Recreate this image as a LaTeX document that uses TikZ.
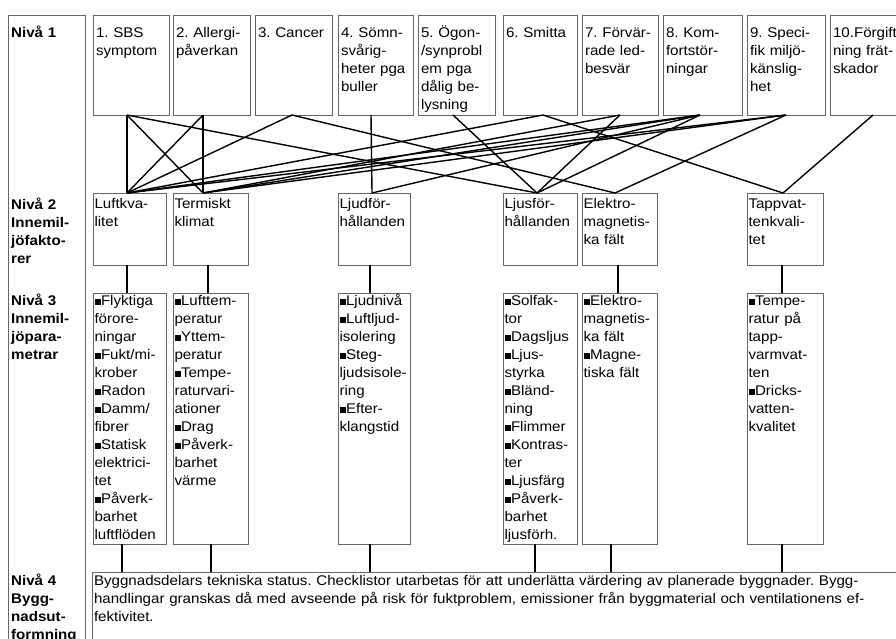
\documentclass[tikz,border=0pt]{standalone}
\usepackage{fontspec}
\setmainfont{Liberation Sans}[FakeStretch=1.08]
\usetikzlibrary{positioning}
\newcommand{\fs}{\fontsize{14}{18}\selectfont\frenchspacing}
\newcommand{\sq}{\rule[0.5pt]{6pt}{6pt}\hspace{0.5pt}}

\begin{document}
\begin{tikzpicture}[x=1pt, y=-1pt,
  frame/.style={draw=black!60, line width=0.6pt, anchor=north west, outer sep=0pt, inner ysep=0pt, font=\fs, align=left},
  effect/.style={frame, inner xsep=3pt, text height=22pt, text depth=78pt},
  factor/.style={frame, inner xsep=1.5pt, text height=15pt, text depth=57pt},
  param/.style={frame, inner xsep=1.5pt, text height=12pt, text depth=239pt},
  level/.style={anchor=base west, inner sep=0pt, font=\fs\bfseries, align=left, text width=72pt},
  link/.style={line width=1.4pt}]

  \useasboundingbox (0,0) rectangle (896,638);

  % Level column
  \node[frame, minimum width=77pt, minimum height=660pt] (side) at (8,15) {};
  \node[level] (lv1) at (11,37) {Nivå 1};
  \node[level] (lv2) at (11,209) {Nivå 2\\Innemil-\\jöfakto-\\rer};
  \node[level] (lv3) at (11,305) {Nivå 3\\Innemil-\\jöpara-\\metrar};
  \node[level] (lv4) at (11,585) {Nivå 4\\Bygg-\\nadsut-\\formning};

  % Level 1
  \node[effect, text width=70pt] (b1) at (93,15) {1. SBS\\symptom};
  \node[effect, text width=71pt] (b2) at (173,15) {2. Allergi-\\påverkan};
  \node[effect, text width=71pt] (b3) at (255,15) {3. Cancer};
  \node[effect, text width=69pt] (b4) at (338,15) {4. Sömn-\\svårig-\\heter pga\\buller};
  \node[effect, text width=71pt] (b5) at (418,15) {5. Ögon-\\/synprobl\\em pga\\dålig be-\\lysning};
  \node[effect, text width=68pt] (b6) at (503,15) {6. Smitta};
  \node[effect, text width=70pt] (b7) at (582,15) {7. Förvär-\\rade led-\\besvär};
  \node[effect, text width=73pt] (b8) at (663,15) {8. Kom-\\fortstör-\\ningar};
  \node[effect, text width=72pt] (b9) at (747,15) {9. Speci-\\fik miljö-\\känslig-\\het};
  \node[effect, text width=74pt] (b10) at (830,15) {10.Förgift-\\ning frät-\\skador};

  % Level 2
  \node[factor, text width=70pt] (n1) at (93,193) {Luftkva-\\litet};
  \node[factor, text width=72pt] (n2) at (173,193) {Termiskt\\klimat};
  \node[factor, text width=69pt] (n3) at (338,193) {Ljudför-\\hållanden};
  \node[factor, text width=71pt] (n4) at (503,193) {Ljusför-\\hållanden};
  \node[factor, text width=72pt] (n5) at (582,193) {Elektro-\\magnetis-\\ka fält};
  \node[factor, text width=73pt] (n6) at (747,193) {Tappvat-\\tenkvali-\\tet};

  % Level 3
  \node[param, text width=70pt] (p1) at (93,293) {\sq Flyktiga\\förore-\\ningar\\\sq Fukt/mi-\\krober\\\sq Radon\\\sq Damm/\\fibrer\\\sq Statisk\\elektrici-\\tet\\\sq Påverk-\\barhet\\luftflöden};
  \node[param, text width=72pt] (p2) at (173,293) {\sq Lufttem-\\peratur\\\sq Yttem-\\peratur\\\sq Tempe-\\raturvari-\\ationer\\\sq Drag\\\sq Påverk-\\barhet\\värme};
  \node[param, text width=69pt] (p3) at (338,293) {\sq Ljudnivå\\\sq Luftljud-\\isolering\\\sq Steg-\\ljudsisole-\\ring\\\sq Efter-\\klangstid};
  \node[param, text width=71pt] (p4) at (503,293) {\sq Solfak-\\tor\\\sq Dagsljus\\\sq Ljus-\\styrka\\\sq Bländ-\\ning\\\sq Flimmer\\\sq Kontras-\\ter\\\sq Ljusfärg\\\sq Påverk-\\barhet\\ljusförh.};
  \node[param, text width=72pt] (p5) at (582,293) {\sq Elektro-\\magnetis-\\ka fält\\\sq Magne-\\tiska fält};
  \node[param, text width=73pt] (p6) at (747,293) {\sq Tempe-\\ratur på\\tapp-\\varmvat-\\ten\\\sq Dricks-\\vatten-\\kvalitet};

  % Level 4
  \node[frame, inner xsep=2pt, text width=830pt, text height=13pt, text depth=80pt] (bygg) at (92,572) {Byggnadsdelars tekniska status. Checklistor utarbetas för att underlätta värdering av planerade byggnader. Bygg-\\handlingar granskas då med avseende på risk för fuktproblem, emissioner från byggmaterial och ventilationens ef-\\fektivitet.};

  % Ends of the links
  \coordinate (u1) at ([xshift=-4pt]b1.south);
  \coordinate (u2) at ([xshift=-8.5pt]b2.south);
  \coordinate (u3) at ([xshift=-1.5pt]b3.south);
  \coordinate (u4) at ([xshift=-4.5pt]b4.south);
  \coordinate (u5) at ([xshift=-3.5pt]b5.south);
  \coordinate (u6) at ([xshift=3pt]b6.south);
  \coordinate (u7) at (b7.south);
  \coordinate (u8) at ([xshift=-2.5pt]b8.south);
  \coordinate (u9) at (b9.south);
  \coordinate (u10) at ([xshift=3pt]b10.south);
  \coordinate (d1) at ([xshift=-2.5pt]n1.north);
  \coordinate (d2) at ([xshift=-7.5pt]n2.north);
  \coordinate (d3) at ([xshift=-2pt]n3.north);
  \coordinate (d4) at ([xshift=-3pt]n4.north);
  \coordinate (d5) at ([xshift=-4.5pt]n5.north);
  \coordinate (d6) at ([xshift=-2pt]n6.north);

  % Level 1 to level 2
  \draw[link] (u1) -- (d1);  \draw[link] (u1) -- (d2);  \draw[link] (u1) -- (d4);
  \draw[link] (u2) -- (d1);  \draw[link] (u2) -- (d2);
  \draw[link] (u3) -- (d1);  \draw[link] (u3) -- (d5);
  \draw[link] (u4) -- (d3);
  \draw[link] (u5) -- (d4);
  \draw[link] (u6) -- (d1);  \draw[link] (u6) -- (d6);
  \draw[link] (u7) -- (d2);  \draw[link] (u7) -- (d4);
  \draw[link] (u8) -- (d1);  \draw[link] (u8) -- (d2);
  \draw[link] (u8) -- (d3);  \draw[link] (u8) -- (d4);
  \draw[link] (u9) -- (d1);  \draw[link] (u9) -- (d2);  \draw[link] (u9) -- (d5);
  \draw[link] (u10) -- (d6);

  % Level 2 to level 3
  \draw[link] ([xshift=-2.5pt]n1.south) -- ([xshift=-2.5pt]p1.north);
  \draw[link] ([xshift=-2.5pt]n2.south) -- ([xshift=-2.5pt]p2.north);
  \draw[link] ([xshift=-4pt]n3.south) -- ([xshift=-4pt]p3.north);
  \draw[link] ([xshift=-1.5pt]n5.south) -- ([xshift=-1.5pt]p5.north);
  \draw[link] ([xshift=-3pt]n6.south) -- ([xshift=-3pt]p6.north);

  % Level 3 to level 4
  \draw[link] ([xshift=-7.5pt]p1.south) -- ([xshift=-7.5pt]p1.south |- bygg.north);
  \draw[link] ([xshift=0.5pt]p2.south) -- ([xshift=0.5pt]p2.south |- bygg.north);
  \draw[link] ([xshift=-4pt]p3.south) -- ([xshift=-4pt]p3.south |- bygg.north);
  \draw[link] ([xshift=-5pt]p4.south) -- ([xshift=-5pt]p4.south |- bygg.north);
  \draw[link] ([xshift=-8.5pt]p5.south) -- ([xshift=-8.5pt]p5.south |- bygg.north);
  \draw[link] ([xshift=-3pt]p6.south) -- ([xshift=-3pt]p6.south |- bygg.north);

\end{tikzpicture}
\end{document}
